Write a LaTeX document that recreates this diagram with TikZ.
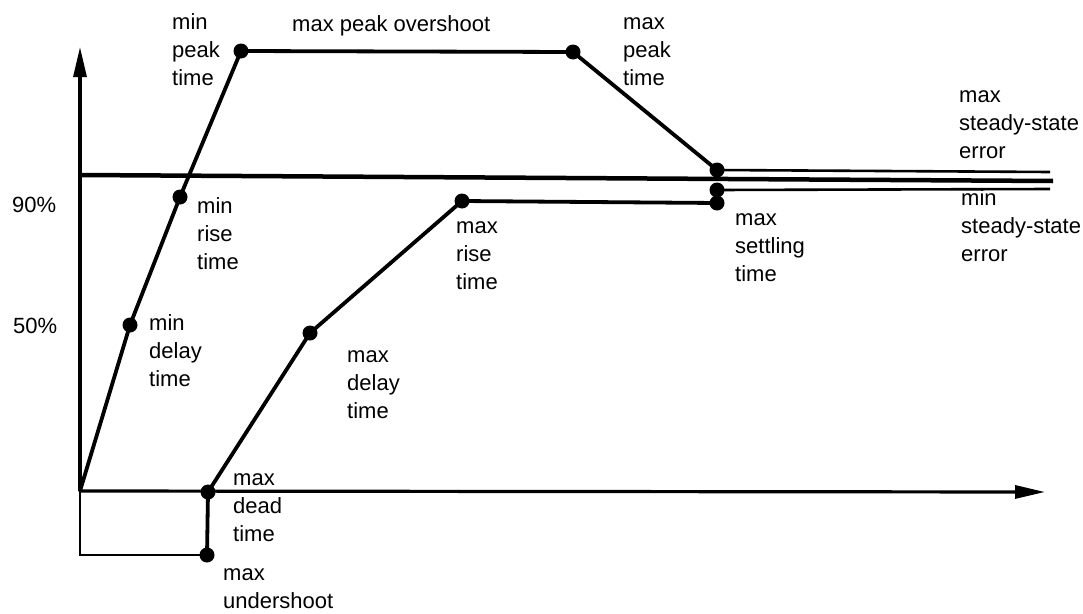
\documentclass[tikz,border=0pt]{standalone}
\usepackage{fontspec}
\setmainfont{Liberation Sans}
\usetikzlibrary{arrows.meta}
% stacked label lines, first baseline is the box baseline
\newcommand\tstack[1]{\vtop{\baselineskip=28pt\lineskiplimit=-20pt\lineskip=0pt #1}}
\tikzset{
  dot/.style={circle,fill=black,inner sep=0pt,minimum size=15pt},
  lbl/.style={anchor=base west,inner sep=0pt,font=\fontsize{22}{28}\selectfont},
  axis/.style={line width=3.2pt,-{Triangle[length=30pt,width=13pt]}},
  curve/.style={line width=3.8pt,line join=round,line cap=round},
  thinline/.style={line width=2.6pt,line join=miter},
  refline/.style={line width=4.5pt}
}
\begin{document}
\begin{tikzpicture}[x=1pt,y=-1pt]
\useasboundingbox (0,0) rectangle (1083,613);

% axes and reference points
\coordinate (O) at (80,491);
\coordinate (ytop) at (80,47);
\coordinate (xend) at (1045,492);
\coordinate (corner) at (80,555);
\coordinate (refL) at (80,175);
\coordinate (refR) at (1053,181);
\coordinate (upEnd) at (1050,172);
\coordinate (loEnd) at (1050,189);

% marked points
\node[dot] (mindelay) at (130,325) {};
\node[dot] (minrise)  at (180,197) {};
\node[dot] (minpeak)  at (241,51) {};
\node[dot] (maxpeak)  at (573,52) {};
\node[dot] (ssup)     at (717,170) {};
\node[dot] (sslo)     at (717,190) {};
\node[dot] (settle)   at (717,203) {};
\node[dot] (maxrise)  at (462,201) {};
\node[dot] (maxdelay) at (310,333) {};
\node[dot] (dead)     at (208,492) {};
\node[dot] (under)    at (207,555) {};

% axes
\draw[axis] (O) -- (ytop);
\draw[axis] (O) -- (xend);

% 100% reference and steady-state band
\draw[refline] (refL) -- (refR);
\draw[thinline] (ssup.center) -- (upEnd);
\draw[thinline] (sslo.center) -- (loEnd);

% fastest response envelope
\draw[curve] (O) -- (mindelay.center) -- (minrise.center) -- (minpeak.center)
  -- (maxpeak.center) -- (ssup.center);

% slowest response envelope
\draw[curve] (dead.center) -- (maxdelay.center) -- (maxrise.center) -- (settle.center);

% undershoot box
\draw[thinline] (O) -- (corner) -- (under.center);
\draw[curve] (dead.center) -- (under.center);

% labels
\node[lbl] (l1)  at (172,29)  {\tstack{\hbox{min}\hbox{peak}\hbox{time}}};
\node[lbl] (l2)  at (292,31)  {max peak overshoot};
\node[lbl] (l3)  at (623,29)  {\tstack{\hbox{max}\hbox{peak}\hbox{time}}};
\node[lbl] (l4)  at (959,102) {\tstack{\hbox{max}\hbox{steady-state}\hbox{error}}};
\node[lbl] (l5)  at (961,205) {\tstack{\hbox{min}\hbox{steady-state}\hbox{error}}};
\node[lbl] (l6)  at (12,212)  {90\%};
\node[lbl] (l7)  at (13,333)  {50\%};
\node[lbl] (l8)  at (197,213) {\tstack{\hbox{min}\hbox{rise}\hbox{time}}};
\node[lbl] (l9)  at (149,330) {\tstack{\hbox{min}\hbox{delay}\hbox{time}}};
\node[lbl] (l10) at (456,233) {\tstack{\hbox{max}\hbox{rise}\hbox{time}}};
\node[lbl] (l11) at (735,225) {\tstack{\hbox{max}\hbox{settling}\hbox{time}}};
\node[lbl] (l12) at (347,362) {\tstack{\hbox{max}\hbox{delay}\hbox{time}}};
\node[lbl] (l13) at (233,485) {\tstack{\hbox{max}\hbox{dead}\hbox{time}}};
\node[lbl] (l14) at (223,580) {\tstack{\hbox{max}\hbox{undershoot}}};
\end{tikzpicture}
\end{document}
